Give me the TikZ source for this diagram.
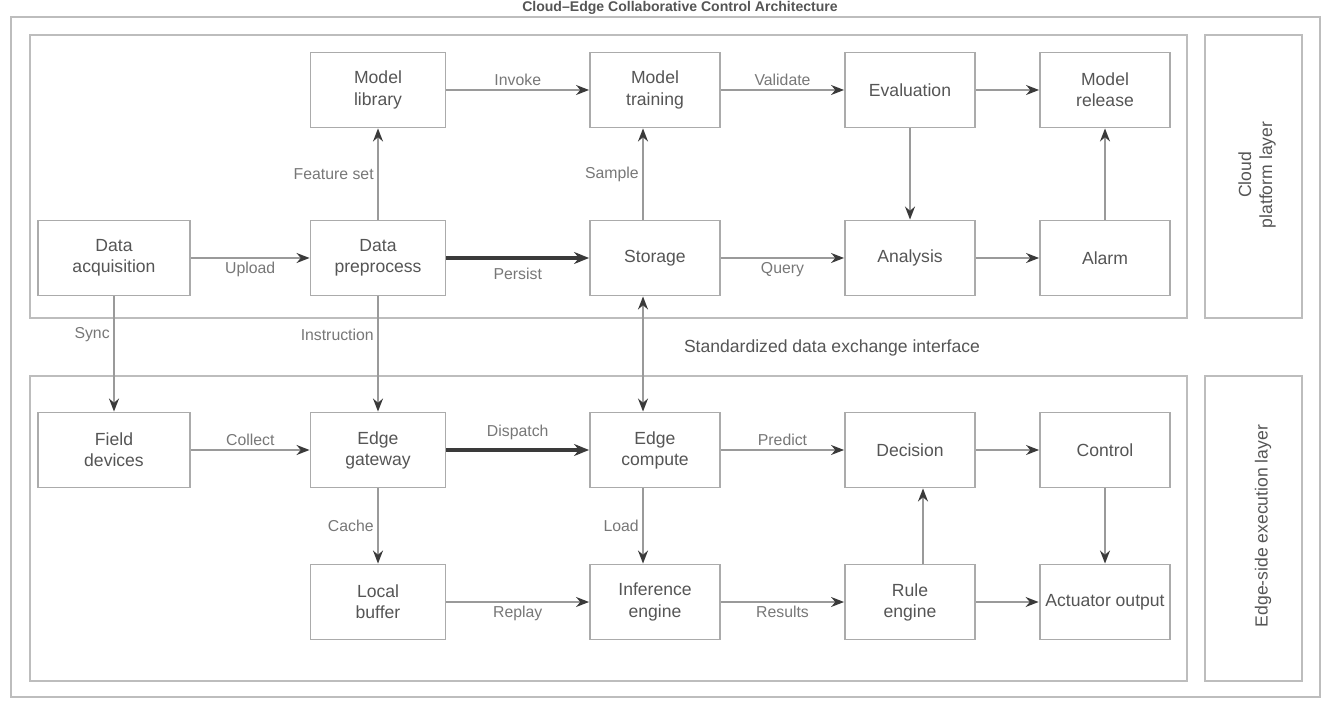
\documentclass[tikz,border=0pt]{standalone}
\usepackage{fontspec}
\setmainfont{Liberation Sans}
\usepackage{xcolor}
\definecolor{cFrame}{HTML}{BDBDBD}
\definecolor{cBox}{HTML}{ABABAB}
\definecolor{cLine}{HTML}{9A9A9A}
\definecolor{cTip}{HTML}{3A3A3A}
\definecolor{cText}{HTML}{555555}
\definecolor{cLabel}{HTML}{777777}
\usepackage{tikz}
\usetikzlibrary{positioning,arrows.meta}
\tikzset{
  node-box/.style={draw=cBox,line width=1.1pt,fill=white,minimum height=15mm,
    minimum width=26mm,align=center,font=\normalsize,text=cText},
  node-wide/.style={minimum width=30.4mm},
  node-mid/.style={minimum width=27mm},
  node-side/.style={rotate=90,align=center,font=\normalsize,text=cText},
  frame/.style={draw=cFrame,line width=1.4pt},
  arrow/.style={-{Stealth[length=2.6mm,width=2mm,color=cTip]},line width=0.9pt,draw=cLine},
  arrow-main/.style={-{Stealth[length=3mm,width=2.4mm]},line width=1.8pt,draw=cTip},
  arrow-both/.style={{Stealth[length=2.6mm,width=2mm,color=cTip]}-{Stealth[length=2.6mm,width=2mm,color=cTip]},
    line width=0.9pt,draw=cLine},
  lbl/.style={font=\small,text=cLabel,inner sep=2pt},
}

\begin{document}
\begin{tikzpicture}[x=0.02cm,y=-0.02cm]
  \useasboundingbox (0,0) rectangle (1325,702);
  % frames
  \node[font=\footnotesize\bfseries,text=cText,inner sep=0pt] (title) at (680,8) {Cloud--Edge Collaborative Control Architecture};
  \draw[frame] (11,17) rectangle (1320,697);
  \draw[frame] (30,35) rectangle (1187,318);
  \draw[frame] (1205,35) rectangle (1302,318);
  \draw[frame] (30,376) rectangle (1187,681);
  \draw[frame] (1205,376) rectangle (1302,681);
  \node[node-side] (cloud) at (1257,175) {Cloud\\platform layer};
  \node[node-side] (edge) at (1263,526) {Edge-side execution layer};
  \node[font=\normalsize,text=cText] (iface) at (832,348) {Standardized data exchange interface};

  % cloud layer
  \node[node-box,node-mid] (lib)   at (378,90)  {Model\\library};
  \node[node-box] (train) at (655,90)  {Model\\training};
  \node[node-box] (eval)  at (910,90)  {Evaluation};
  \node[node-box] (rel)   at (1105,90) {Model\\release};
  \node[node-box,node-wide] (acq) at (114,258) {Data\\acquisition};
  \node[node-box,node-mid] (prep) at (378,258) {Data\\preprocess};
  \node[node-box] (store) at (655,258) {Storage};
  \node[node-box] (anal)  at (910,258) {Analysis};
  \node[node-box] (alarm) at (1105,258) {Alarm};

  % edge layer
  \node[node-box,node-wide] (dev) at (114,450) {Field\\devices};
  \node[node-box,node-mid] (gw)  at (378,450) {Edge\\gateway};
  \node[node-box] (comp)  at (655,450) {Edge\\compute};
  \node[node-box] (dec)   at (910,450) {Decision};
  \node[node-box] (ctrl)  at (1105,450) {Control};
  \node[node-box,node-mid] (buf) at (378,602) {Local\\buffer};
  \node[node-box] (inf)   at (655,602) {Inference\\engine};
  \node[node-box] (rule)  at (910,602) {Rule\\engine};
  \node[node-box] (act)   at (1105,602) {Actuator output};

  % cloud connectors
  \draw[arrow] (lib) -- node[lbl,above]{Invoke} (train);
  \draw[arrow] (train) -- node[lbl,above]{Validate} (eval);
  \draw[arrow] (eval) -- (rel);
  \draw[arrow] (prep) -- node[lbl,left]{Feature set} (lib);
  \draw[arrow] ([xshift=-0.24cm]store.north) -- node[lbl,left]{Sample} ([xshift=-0.24cm]train.south);
  \draw[arrow] (eval) -- (anal);
  \draw[arrow] (alarm) -- (rel);
  \draw[arrow] (acq) -- node[lbl,below]{Upload} (prep);
  \draw[arrow-main] (prep) -- node[lbl,below=3pt]{Persist} (store);
  \draw[arrow] (store) -- node[lbl,below]{Query} (anal);
  \draw[arrow] (anal) -- (alarm);

  % across the interface
  \draw[arrow] (acq) -- node[lbl,left,pos=0.33]{Sync} (dev);
  \draw[arrow] (prep) -- node[lbl,left,pos=0.33]{Instruction} (gw);
  \draw[arrow-both] ([xshift=-0.24cm]comp.north) -- ([xshift=-0.24cm]store.south);

  % edge connectors
  \draw[arrow] (dev) -- node[lbl,above]{Collect} (gw);
  \draw[arrow-main] (gw) -- node[lbl,above=3pt]{Dispatch} (comp);
  \draw[arrow] (comp) -- node[lbl,above]{Predict} (dec);
  \draw[arrow] (dec) -- (ctrl);
  \draw[arrow] (gw) -- node[lbl,left]{Cache} (buf);
  \draw[arrow] ([xshift=-0.24cm]comp.south) -- node[lbl,left]{Load} ([xshift=-0.24cm]inf.north);
  \draw[arrow] ([xshift=0.26cm]rule.north) -- ([xshift=0.26cm]dec.south);
  \draw[arrow] (ctrl) -- (act);
  \draw[arrow] (buf) -- node[lbl,below]{Replay} (inf);
  \draw[arrow] (inf) -- node[lbl,below]{Results} (rule);
  \draw[arrow] (rule) -- (act);
\end{tikzpicture}
\end{document}
